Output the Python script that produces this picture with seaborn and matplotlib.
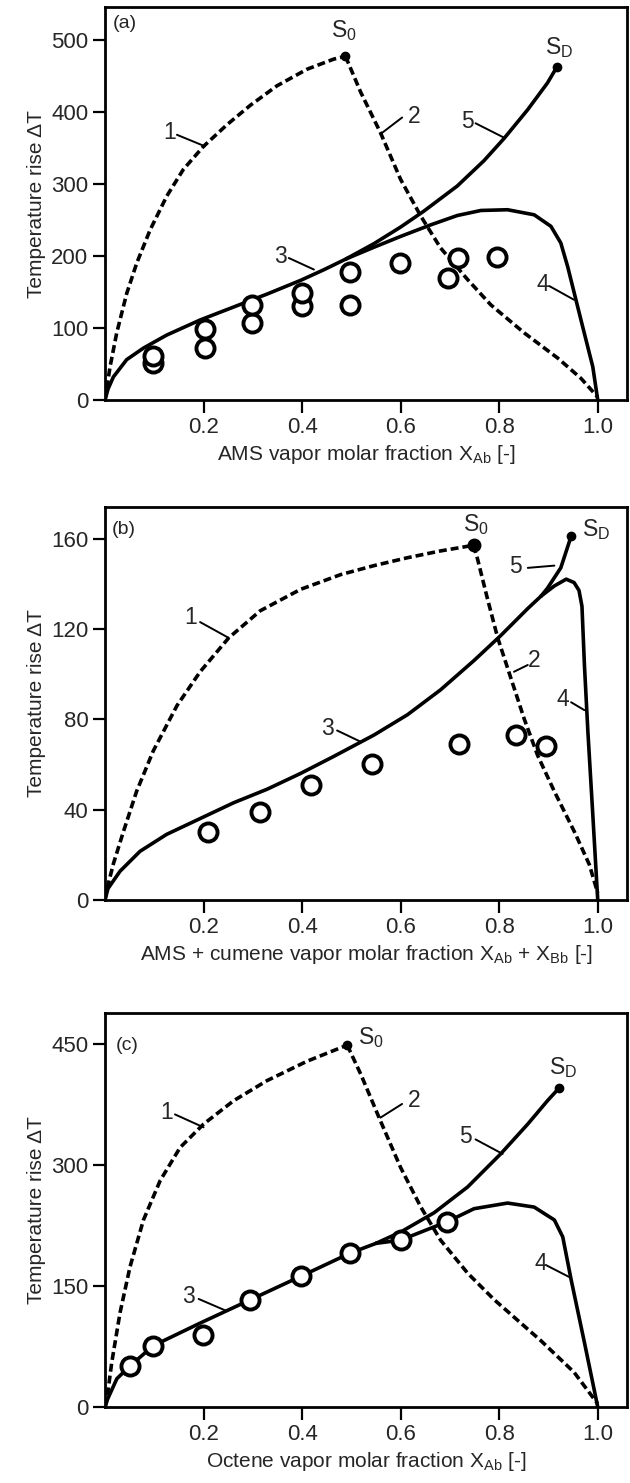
import numpy as np
import pandas as pd
import matplotlib
matplotlib.use('Agg')
import matplotlib.pyplot as plt
import seaborn as sns

sns.set_style('ticks')
plt.rcParams['font.family'] = ['Liberation Sans', 'DejaVu Sans']
plt.rcParams['mathtext.fontset'] = 'custom'
plt.rcParams['mathtext.rm'] = 'Liberation Sans'
plt.rcParams['mathtext.it'] = 'Liberation Sans'

# ---- panel (a): AMS ----
a_c1_x = [0, 0.0102, 0.0237, 0.0441, 0.0644, 0.0915, 0.1254, 0.159, 0.2, 0.2475, 0.295, 0.349, 0.41, 0.464, 0.488]
a_c1_y = [0, 46, 93, 148, 190, 236, 283, 320, 352, 382, 409, 436, 459, 473, 477]
a_c2_x = [0.488, 0.519, 0.559, 0.6, 0.641, 0.681, 0.736, 0.783, 0.851, 0.919, 0.966, 1.0]
a_c2_y = [477, 427, 371, 306, 255, 211, 167, 132, 93, 58, 30, 4]
a_c3_x = [0, 0.006, 0.017, 0.044, 0.078, 0.125, 0.193, 0.261, 0.329, 0.397, 0.445, 0.49]
a_c3_y = [0, 15, 32, 56, 72, 90, 111, 129, 147, 166, 181, 196]
a_c4_x = [0.49, 0.546, 0.6, 0.661, 0.715, 0.763, 0.817, 0.871, 0.905, 0.925, 0.939, 0.966, 0.99, 1.0]
a_c4_y = [196, 212, 227, 243, 256, 263, 264, 257, 241, 218, 185, 111, 46, 0]
a_c5_x = [0.49, 0.546, 0.6, 0.647, 0.715, 0.769, 0.81, 0.858, 0.898, 0.917]
a_c5_y = [196, 217, 240, 262, 297, 332, 363, 403, 440, 462]
a_pts_x = [0.098, 0.098, 0.202, 0.202, 0.298, 0.298, 0.4, 0.4, 0.498, 0.498, 0.599, 0.696, 0.717, 0.795]
a_pts_y = [51, 61, 72, 98, 107, 132, 130, 148, 132, 178, 190, 169, 197, 199]

# ---- panel (b): AMS + cumene ----
b_c1_x = [0, 0.003, 0.017, 0.037, 0.064, 0.098, 0.146, 0.193, 0.251, 0.315, 0.397, 0.478, 0.546, 0.614, 0.681, 0.748]
b_c1_y = [0, 4, 16, 30, 48, 66, 86, 101, 116, 128, 137.5, 144, 148, 151.5, 154.5, 157]
b_c2_x = [0.748, 0.756, 0.776, 0.797, 0.824, 0.851, 0.878, 0.912, 0.953, 0.983, 1.0]
b_c2_y = [157, 151, 133.5, 116, 98, 80, 64, 48, 30, 15.6, 3]
b_c3_x = [0, 0.006, 0.0305, 0.071, 0.125, 0.193, 0.261, 0.329, 0.397, 0.464, 0.546, 0.614, 0.681, 0.749, 0.803, 0.858, 0.885]
b_c3_y = [0, 5, 12.7, 21.5, 29, 36, 43, 49, 56, 63.5, 73, 82, 93, 106, 117, 129, 134.5]
b_c4_x = [0.885, 0.912, 0.936, 0.952, 0.962, 0.968, 0.973, 0.98, 0.99, 1.0]
b_c4_y = [134.5, 139, 142, 140.5, 137, 130, 104, 74.6, 37.7, 0]
b_c5_x = [0.885, 0.898, 0.925, 0.946]
b_c5_y = [134.5, 138, 147, 161]
b_pts_x = [0.209, 0.315, 0.418, 0.542, 0.719, 0.834, 0.895]
b_pts_y = [30, 39, 51, 60, 69, 73, 68]

# ---- panel (c): octene ----
c_c1_x = [0, 0.003, 0.0136, 0.0305, 0.0508, 0.078, 0.112, 0.1525, 0.2, 0.261, 0.329, 0.41, 0.4915]
c_c1_y = [0, 6, 55, 117, 174, 232, 281, 322, 351, 380, 405, 429, 449]
c_c2_x = [0.4915, 0.519, 0.559, 0.6, 0.641, 0.681, 0.736, 0.79, 0.885, 0.952, 0.99, 1.0]
c_c2_y = [449, 413, 355, 297, 248, 207, 166, 133, 82, 43, 12, 4]
c_c3_x = [0, 0.004, 0.024, 0.051, 0.098, 0.193, 0.295, 0.397, 0.498, 0.55]
c_c3_y = [0, 8, 35, 51, 76, 104, 133, 162, 191, 203]
c_c4_x = [0.55, 0.6, 0.695, 0.749, 0.817, 0.871, 0.912, 0.929, 0.946, 0.973, 1.0]
c_c4_y = [203, 207, 230, 246, 253, 248, 232, 211, 158, 80, 0]
c_c5_x = [0.55, 0.6, 0.668, 0.736, 0.803, 0.858, 0.898, 0.922]
c_c5_y = [203, 217, 241, 273, 314, 351, 380, 396]
c_pts_x = [0.051, 0.098, 0.199, 0.295, 0.397, 0.498, 0.6, 0.695]
c_pts_y = [51, 75, 89, 133, 162, 191, 207, 230]

x_ticks = [0.2, 0.4, 0.6, 0.8, 1.0]
x_ticklabels = ['0.2', '0.4', '0.6', '0.8', '1.0']

panels = [
    dict(tag='(a)', ylim=545, yticks=[0, 100, 200, 300, 400, 500],
         xlabel='AMS vapor molar fraction X$_{\\mathrm{Ab}}$ [-]',
         c1=(a_c1_x, a_c1_y), c2=(a_c2_x, a_c2_y), c3=(a_c3_x, a_c3_y),
         c4=(a_c4_x, a_c4_y), c5=(a_c5_x, a_c5_y), pts=(a_pts_x, a_pts_y),
         s0_ms=6, tagpos=(0.041, 522),
         s0txt=(0.485, 513), sdtxt=(0.922, 489),
         lab={'1': ((0.132, 371), (0.146, 368), (0.203, 352)),
              '2': ((0.627, 394), (0.603, 392), (0.559, 369)),
              '3': ((0.356, 199), (0.373, 197), (0.424, 181)),
              '4': ((0.888, 160), (0.902, 158), (0.952, 139)),
              '5': ((0.736, 387), (0.752, 384), (0.81, 364))}),
    dict(tag='(b)', ylim=174, yticks=[0, 40, 80, 120, 160],
         xlabel='AMS + cumene vapor molar fraction X$_{\\mathrm{Ab}}$ + X$_{\\mathrm{Bb}}$ [-]',
         c1=(b_c1_x, b_c1_y), c2=(b_c2_x, b_c2_y), c3=(b_c3_x, b_c3_y),
         c4=(b_c4_x, b_c4_y), c5=(b_c5_x, b_c5_y), pts=(b_pts_x, b_pts_y),
         s0_ms=9, tagpos=(0.037, 164),
         s0txt=(0.752, 166), sdtxt=(0.997, 164),
         lab={'1': ((0.173, 125), (0.193, 123), (0.251, 116)),
              '2': ((0.871, 106), (0.858, 104), (0.83, 101)),
              '3': ((0.451, 76), (0.471, 75), (0.519, 70)),
              '4': ((0.929, 88.5), (0.946, 87.5), (0.973, 84)),
              '5': ((0.834, 147.5), (0.858, 147), (0.912, 148))}),
    dict(tag='(c)', ylim=489, yticks=[0, 150, 300, 450],
         xlabel='Octene vapor molar fraction X$_{\\mathrm{Ab}}$ [-]',
         c1=(c_c1_x, c_c1_y), c2=(c_c2_x, c_c2_y), c3=(c_c3_x, c_c3_y),
         c4=(c_c4_x, c_c4_y), c5=(c_c5_x, c_c5_y), pts=(c_pts_x, c_pts_y),
         s0_ms=6, tagpos=(0.044, 449),
         s0txt=(0.539, 458), sdtxt=(0.929, 421),
         lab={'1': ((0.125, 365), (0.142, 363), (0.2, 347)),
              '2': ((0.627, 380), (0.603, 376), (0.559, 359)),
              '3': ((0.169, 137), (0.19, 134), (0.247, 119)),
              '4': ((0.885, 178), (0.895, 176), (0.946, 160)),
              '5': ((0.732, 336), (0.752, 332), (0.807, 314))}),
]

fig = plt.figure(figsize=(6.3, 14.83), dpi=100)
bottoms = [0.7303, 0.3932, 0.0513]
heights = [0.2648, 0.2650, 0.2657]
fs_tick = 16
fs_lab = 15
fs_ann = 16.5
lw = 2.6

for p, b, h in zip(panels, bottoms, heights):
    ax = fig.add_axes([0.1667, b, 0.829, h])
    for key in ['c1', 'c2']:
        x, y = p[key]
        sns.lineplot(x=x, y=y, ax=ax, color='k', lw=lw, sort=False,
                     estimator=None, linestyle=(0, (2.2, 1.1)))
    for key in ['c3', 'c4', 'c5']:
        x, y = p[key]
        sns.lineplot(x=x, y=y, ax=ax, color='k', lw=lw, sort=False, estimator=None)
    px, py = p['pts']
    sns.scatterplot(x=px, y=py, ax=ax, s=170, facecolor='white', edgecolor='k',
                    linewidth=2.8, zorder=5)
    # end points S0 and SD
    ax.plot(p['c1'][0][-1], p['c1'][1][-1], 'o', color='k', ms=p['s0_ms'], zorder=6)
    ax.plot(p['c5'][0][-1], p['c5'][1][-1], 'o', color='k', ms=6, zorder=6)
    ax.text(*p['s0txt'], 'S$_0$', fontsize=fs_ann, ha='center', va='center')
    ax.text(*p['sdtxt'], 'S$_\\mathrm{D}$', fontsize=fs_ann, ha='center', va='center')
    ax.text(*p['tagpos'], p['tag'], fontsize=14, ha='center', va='center')
    for t, (tp, l0, l1) in p['lab'].items():
        ax.text(*tp, t, fontsize=fs_ann, ha='center', va='center')
        ax.plot([l0[0], l1[0]], [l0[1], l1[1]], color='k', lw=1.4)

    ax.set_xlim(0, 1.06)
    ax.set_ylim(0, p['ylim'])
    ax.set_xticks(x_ticks)
    ax.set_xticklabels(x_ticklabels)
    ax.set_yticks(p['yticks'])
    ax.tick_params(direction='out', length=9, width=1.6, labelsize=fs_tick, pad=3, color='k')
    for s in ax.spines.values():
        s.set_linewidth(2)
        s.set_color('k')
    ax.set_xlabel(p['xlabel'], fontsize=fs_lab, labelpad=4)
    ax.set_ylabel('Temperature rise \u0394T', fontsize=fs_lab, labelpad=4)

fig.savefig('out.png', dpi=100)
